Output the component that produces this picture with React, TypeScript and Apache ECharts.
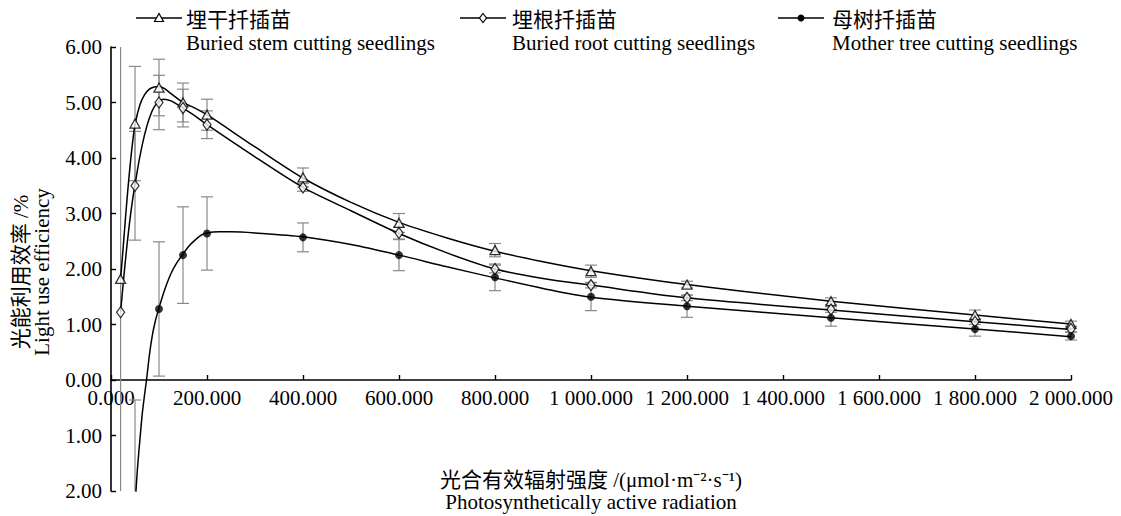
import React, { useEffect, useRef } from "react";
import * as echarts from "echarts";

// ---- data ----
const PAR = [20, 50, 100, 150, 200, 400, 600, 800, 1000, 1200, 1500, 1800, 2000];

const stemMean = [1.82, 4.62, 5.27, 5.0, 4.78, 3.65, 2.83, 2.34, 1.96, 1.72, 1.42, 1.17, 1.01];
const stemErr = [4.5, 1.03, 0.51, 0.35, 0.28, 0.17, 0.17, 0.12, 0.11, 0.06, 0.06, 0.09, 0.05];

const rootMean = [1.22, 3.5, 5.0, 4.9, 4.6, 3.47, 2.65, 2.0, 1.71, 1.48, 1.27, 1.05, 0.92];
const rootErr = [0, 0.98, 0.49, 0.34, 0.25, 0.07, 0.11, 0.07, 0.05, 0.05, 0.05, 0.05, 0.05];

const motherMean = [null, -3.0, 1.28, 2.25, 2.64, 2.57, 2.25, 1.85, 1.5, 1.33, 1.12, 0.92, 0.79];
const motherErr = [0, 2.64, 1.21, 0.87, 0.66, 0.26, 0.28, 0.24, 0.25, 0.2, 0.15, 0.13, 0.07];

// fitted curves (x, y)
const stemCurve = [
  [20, 1.82], [25, 2.35], [30, 2.9], [35, 3.42], [40, 3.88], [45, 4.28], [50, 4.6], [60, 4.95],
  [70, 5.14], [80, 5.24], [90, 5.28], [100, 5.29], [110, 5.26], [125, 5.16], [150, 5.0],
  [175, 4.9], [200, 4.78], [300, 4.2], [400, 3.64], [500, 3.2], [600, 2.84], [700, 2.56],
  [800, 2.32], [900, 2.13], [1000, 1.97], [1200, 1.72], [1500, 1.42], [1800, 1.17], [2000, 1.01],
];
const rootCurve = [
  [20, 1.22], [25, 1.7], [30, 2.15], [35, 2.56], [40, 2.93], [45, 3.25], [50, 3.52], [60, 4.02],
  [70, 4.42], [80, 4.72], [90, 4.92], [100, 5.02], [110, 5.06], [125, 5.03], [150, 4.9],
  [175, 4.76], [200, 4.6], [300, 4.02], [400, 3.47], [500, 3.05], [600, 2.64], [700, 2.29],
  [800, 2.0], [900, 1.83], [1000, 1.71], [1200, 1.48], [1500, 1.26], [1800, 1.05], [2000, 0.91],
];
const motherCurve = [
  [48, -2.7], [52, -2.0], [56, -1.5], [60, -1.1], [65, -0.62], [70, -0.26], [74, 0.0],
  [80, 0.45], [86, 0.8], [92, 1.05], [100, 1.3], [112, 1.63], [125, 1.92], [137, 2.11],
  [150, 2.27], [162, 2.41], [175, 2.52], [188, 2.61], [200, 2.65], [225, 2.67], [250, 2.67],
  [300, 2.65], [400, 2.58], [500, 2.44], [600, 2.25], [700, 2.04], [800, 1.84], [900, 1.65],
  [1000, 1.49], [1200, 1.33], [1500, 1.12], [1800, 0.92], [2000, 0.78],
];

const seriesNames = ["埋干扦插苗", "埋根扦插苗", "母树扦插苗"];
const seriesNamesEn = [
  "Buried stem cutting seedlings",
  "Buried root cutting seedlings",
  "Mother tree cutting seedlings",
];
const yNameZh = "光能利用效率 /%";
const yNameEn = "Light use efficiency";
const xNameZh = "光合有效辐射强度 /(μmol·m⁻²·s⁻¹)";
const xNameEn = "Photosynthetically active radiation";

const X_MIN = 0, X_MAX = 2000, X_STEP = 200;
const Y_MIN = -2, Y_MAX = 6, Y_STEP = 1;

const FONT = '"Liberation Serif", "Times New Roman", "Noto Sans CJK SC", serif';
const ERR_COLOR = "#8a8a8a";

function fmtX(v: number) {
  const s = v.toFixed(3);
  const [i, d] = s.split(".");
  return i.replace(/\B(?=(\d{3})+(?!\d))/g, " ") + "." + d;
}

function errData(means: (number | null)[], errs: number[]) {
  return PAR.map((x, i) => [x, means[i], errs[i]]).filter((d) => d[1] != null);
}
function pointData(means: (number | null)[]) {
  return PAR.map((x, i) => [x, means[i]]).filter((d) => d[1] != null);
}

const errRender = (params: any, api: any) => {
  const x = api.value(0);
  const v = api.value(1);
  const e = api.value(2);
  const hi = v + e;
  const lo = v - e;
  const hiC = Math.min(hi, Y_MAX);
  const loC = Math.max(lo, Y_MIN);
  if (hiC <= loC) return null;
  const pHi = api.coord([x, hiC]);
  const pLo = api.coord([x, loC]);
  const st = { stroke: ERR_COLOR, lineWidth: 1.2 };
  const w = 6;
  const children: any[] = [
    { type: "line", shape: { x1: pHi[0], y1: pHi[1], x2: pLo[0], y2: pLo[1] }, style: st },
  ];
  if (hi <= Y_MAX)
    children.push({ type: "line", shape: { x1: pHi[0] - w, y1: pHi[1], x2: pHi[0] + w, y2: pHi[1] }, style: st });
  if (lo >= Y_MIN)
    children.push({ type: "line", shape: { x1: pLo[0] - w, y1: pLo[1], x2: pLo[0] + w, y2: pLo[1] }, style: st });
  return { type: "group", children };
};

export default function App() {
  const ref = useRef<HTMLDivElement>(null);

  useEffect(() => {
    document.body.style.margin = "0";
    if (!ref.current) return;
    const chart = echarts.init(ref.current, undefined, { renderer: "svg" });

    const lineStyle = { color: "#000", width: 1.5 };
    const txt = (x: number, y: number, text: string, extra: any = {}) => ({
      type: "text",
      x,
      y,
      ...extra,
      style: {
        text,
        font: `21px ${FONT}`,
        fill: "#000",
        textAlign: extra.align || "left",
        align: extra.align || "left",
        textVerticalAlign: "middle",
        verticalAlign: "middle",
      },
    });

    const legendY = 18;
    const legendItems = [
      { x1: 136, x2: 182, tx: 186, sx: 159, kind: "tri" },
      { x1: 460, x2: 506, tx: 512, sx: 483, kind: "dia" },
      { x1: 778, x2: 824, tx: 832, sx: 801, kind: "dot" },
    ];
    const graphics: any[] = [];
    legendItems.forEach((it, i) => {
      graphics.push({
        type: "line",
        shape: { x1: it.x1, y1: legendY, x2: it.x2, y2: legendY },
        style: { stroke: "#000", lineWidth: 1.5 },
      });
      if (it.kind === "tri") {
        graphics.push({
          type: "polygon",
          shape: { points: [[it.sx, legendY - 4.5], [it.sx - 4.5, legendY + 3.5], [it.sx + 4.5, legendY + 3.5]] },
          style: { fill: "#fff", stroke: "#000", lineWidth: 1.2 },
        });
      } else if (it.kind === "dia") {
        graphics.push({
          type: "polygon",
          shape: { points: [[it.sx, legendY - 4.5], [it.sx + 3.5, legendY], [it.sx, legendY + 4.5], [it.sx - 3.5, legendY]] },
          style: { fill: "#fff", stroke: "#000", lineWidth: 1.2 },
        });
      } else {
        graphics.push({ type: "circle", shape: { cx: it.sx, cy: legendY, r: 3.5 }, style: { fill: "#000" } });
      }
      graphics.push(txt(it.tx, 20, seriesNames[i]));
      graphics.push(txt(it.tx, 43, seriesNamesEn[i]));
    });
    graphics.push(txt(21, 272, yNameZh, { rotation: Math.PI / 2, align: "center" }));
    graphics.push(txt(42, 272, yNameEn, { rotation: Math.PI / 2, align: "center" }));
    graphics.push(txt(591, 480, xNameZh, { align: "center" }));
    graphics.push(txt(591, 502, xNameEn, { align: "center" }));

    const symbolStyles = [
      { symbol: "triangle", symbolSize: [10, 9], itemStyle: { color: "#fff", borderColor: "#000", borderWidth: 1.3 } },
      { symbol: "diamond", symbolSize: [8, 11], itemStyle: { color: "#fff", borderColor: "#000", borderWidth: 1.3 } },
      { symbol: "circle", symbolSize: 8, itemStyle: { color: "#000", borderColor: "#000", borderWidth: 0 } },
    ];
    const means = [stemMean, rootMean, motherMean];
    const errs = [stemErr, rootErr, motherErr];
    const curves = [stemCurve, rootCurve, motherCurve];

    const series: any[] = [];
    for (let i = 0; i < 3; i++) {
      series.push({
        type: "custom",
        name: seriesNames[i] + "误差",
        renderItem: errRender,
        data: errData(means[i], errs[i]),
        encode: { x: 0, y: 1 },
        z: 1,
        silent: true,
      });
    }
    for (let i = 0; i < 3; i++) {
      series.push({
        type: "line",
        name: seriesNames[i] + "拟合",
        data: curves[i],
        showSymbol: false,
        smooth: 0.3,
        clip: true,
        lineStyle,
        z: 2,
        silent: true,
      });
    }
    for (let i = 0; i < 3; i++) {
      series.push({
        type: "scatter",
        name: seriesNames[i],
        data: pointData(means[i]),
        clip: true,
        z: 3,
        ...symbolStyles[i],
      });
    }

    chart.setOption({
      animation: false,
      backgroundColor: "#fff",
      textStyle: { fontFamily: FONT },
      grid: { left: 111, right: 50, top: 47, bottom: 25, containLabel: false },
      xAxis: {
        type: "value",
        min: X_MIN,
        max: X_MAX,
        interval: X_STEP,
        axisLine: { onZero: true, lineStyle: { color: "#000", width: 1.6 } },
        axisTick: { show: true, inside: true, length: 5, lineStyle: { color: "#000", width: 1.4 } },
        axisLabel: {
          formatter: fmtX,
          color: "#000",
          fontSize: 21,
          fontFamily: FONT,
          margin: -104,
          showMinLabel: true,
          showMaxLabel: true,
        },
        splitLine: { show: false },
      },
      yAxis: {
        type: "value",
        min: Y_MIN,
        max: Y_MAX,
        interval: Y_STEP,
        axisLine: { show: true, onZero: false, lineStyle: { color: "#000", width: 1.6 } },
        axisTick: { show: true, inside: true, length: 5, lineStyle: { color: "#000", width: 1.4 } },
        axisLabel: {
          formatter: (v: number) => Math.abs(v).toFixed(2),
          color: "#000",
          fontSize: 21,
          fontFamily: FONT,
          margin: 9,
        },
        splitLine: { show: false },
      },
      graphic: graphics,
      series,
    });

    return () => chart.dispose();
  }, []);

  return <div ref={ref} style={{ width: 1121, height: 516 }} />;
}
